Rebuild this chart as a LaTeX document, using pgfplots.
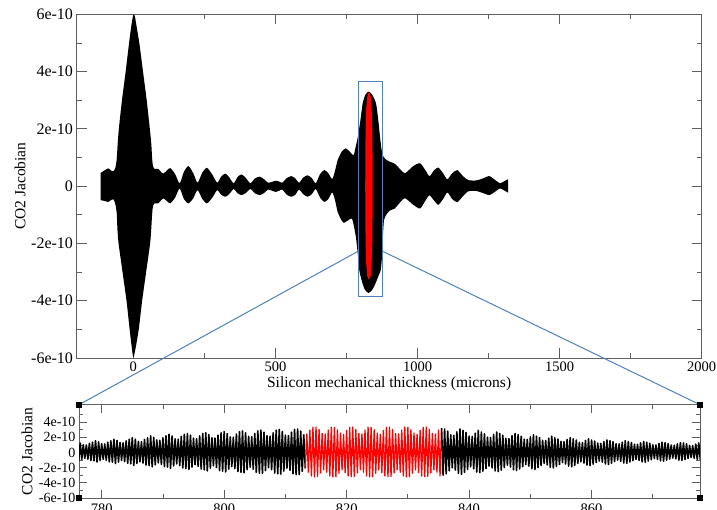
\documentclass[border=0pt]{standalone}
\usepackage{fontspec}
\setmainfont{Liberation Serif}
\usepackage{pgfplots}
\pgfplotsset{compat=1.18}
\usepgfplotslibrary{fillbetween}
\definecolor{zoomblue}{RGB}{79,129,189}
\definecolor{framegray}{RGB}{95,95,95}
\begin{document}
\begin{tikzpicture}[x=1pt,y=1pt]
\pgfplotsset{
  every axis/.append style={scale only axis, anchor=south west,
    axis line style={framegray, line width=0.9pt},
    tick style={framegray, line width=0.8pt},
    tick align=inside,
    /pgf/number format/assume math mode=true,
    scaled ticks=false},
}
% ---------------- main axis ----------------
\begin{axis}[at={(76.5pt,151pt)}, width=625.2pt, height=343.7pt,
  xmin=-200, xmax=2000, ymin=-6, ymax=6,
  xtick={0,500,1000,1500,2000}, xticklabels={0,500,1000,1500,2000},
  minor xtick={250,750,1250,1750},
  ytick={-6,-4,-2,0,2,4,6}, yticklabels={-6e-10,-4e-10,-2e-10,0,2e-10,4e-10,6e-10},
  minor ytick={-5,-3,-1,1,3,5},
  major tick length=10pt, minor tick length=5pt,
  xticklabel style={font=\fontsize{14.5}{14.5}\selectfont},
  yticklabel style={font=\fontsize{16}{16}\selectfont},
  xlabel={Silicon mechanical thickness (microns)},
  ylabel={CO2 Jacobian},
  label style={font=\fontsize{15.5}{15.5}\selectfont},
  xlabel style={at={(axis description cs:0.5,-0.0757)}, anchor=center},
  ylabel style={at={(axis description cs:-0.0904,0.5)}, anchor=center},
]
\addplot[draw=none, name path=u, smooth, tension=0.4] coordinates {
(-115,0.46) (-100,0.56) (-88,0.62) (-78,0.54) (-70,0.52) (-64,0.62) (-61,0.75) (-58,1.0) (-55,1.5) (-51,2.0) (-40,3.0) (-27,4.0) (-15,5.0) (-7,5.6) (-2,5.9) (2,6.0) (6,5.9) (11,5.6) (21,5.0) (34,4.0) (47,3.0) (58,2.0) (63,1.5) (66,1.0) (69,0.7) (75,0.6) (88,0.6) (97,0.5) (106,0.44) (118,0.55) (130,0.63) (147,0.42) (163,0.1) (178,0.5) (194,0.7) (211,0.45) (226,0.12) (243,0.48) (259,0.64) (278,0.4) (295,0.12) (309,0.33) (324,0.44) (338,0.3) (353,0.1) (367,0.32) (381,0.41) (396,0.28) (412,0.1) (428,0.27) (445,0.33) (460,0.24) (474,0.12) (488,0.15) (501,0.19) (513,0.16) (524,0.12) (540,0.28) (556,0.35) (570,0.27) (583,0.12) (598,0.3) (613,0.38) (628,0.28) (642,0.1) (657,0.42) (672,0.56) (686,0.45) (700,0.25) (710,0.55) (719,0.91) (733,1.2) (748,1.32) (762,1.2) (775,1.08) (783,1.4) (790,1.72) (799,2.3) (807,2.89) (817,3.2) (828,3.3) (840,3.2) (854,2.89) (862,2.3) (868,1.72) (874,1.25) (880,1.03) (890,0.92) (903,0.85) (920,0.78) (940,0.58) (956,0.45) (985,0.7) (1009,0.8) (1028,0.55) (1042,0.35) (1058,0.55) (1073,0.65) (1090,0.45) (1105,0.24) (1122,0.45) (1140,0.56) (1160,0.35) (1179,0.21) (1208,0.2) (1230,0.27) (1253,0.35) (1275,0.2) (1290,0.1) (1305,0.17) (1319,0.24)
};
\addplot[draw=none, name path=l, smooth, tension=0.4] coordinates {
(-115,-0.49) (-100,-0.52) (-88,-0.55) (-78,-0.48) (-70,-0.46) (-64,-0.6) (-61,-0.75) (-58,-1.0) (-56,-1.5) (-52,-2.0) (-38,-3.0) (-24,-4.0) (-13,-5.0) (-6,-5.6) (-2,-5.9) (0,-5.98) (3,-5.9) (9,-5.6) (19,-5.0) (31,-4.0) (45,-3.0) (59,-2.0) (63,-1.5) (66,-1.0) (69,-0.7) (75,-0.6) (88,-0.6) (97,-0.5) (106,-0.43) (118,-0.52) (130,-0.6) (147,-0.4) (163,-0.08) (178,-0.45) (194,-0.6) (211,-0.42) (226,-0.14) (243,-0.45) (259,-0.6) (278,-0.4) (295,-0.14) (309,-0.3) (324,-0.37) (338,-0.27) (353,-0.1) (367,-0.25) (381,-0.31) (396,-0.24) (412,-0.1) (428,-0.25) (445,-0.31) (460,-0.24) (474,-0.12) (488,-0.16) (501,-0.2) (513,-0.16) (524,-0.12) (540,-0.3) (556,-0.37) (570,-0.3) (583,-0.12) (598,-0.28) (613,-0.37) (628,-0.28) (642,-0.1) (657,-0.4) (672,-0.55) (686,-0.45) (700,-0.22) (710,-0.5) (719,-0.9) (733,-1.2) (741,-1.28) (755,-1.2) (770,-1.15) (783,-1.77) (790,-2.4) (795,-2.93) (805,-3.35) (815,-3.62) (828,-3.73) (842,-3.6) (852,-3.4) (862,-3.15) (870,-2.95) (874,-2.6) (878,-1.77) (882,-1.19) (890,-1.0) (903,-0.85) (920,-0.78) (940,-0.55) (956,-0.42) (985,-0.65) (1009,-0.78) (1028,-0.5) (1042,-0.32) (1058,-0.5) (1073,-0.65) (1090,-0.45) (1105,-0.22) (1122,-0.45) (1140,-0.56) (1160,-0.35) (1179,-0.18) (1208,-0.17) (1230,-0.24) (1253,-0.31) (1275,-0.18) (1290,-0.08) (1305,-0.15) (1319,-0.23)
};
\addplot[black] fill between[of=u and l];
\addplot[fill=red, draw=none] coordinates {
(816,0) (816.3,1.0) (817.3,2.0) (819.5,2.7) (822.5,3.1) (826,3.24) (829,3.27) (832,3.24) (835.5,3.1) (838.5,2.7) (840.7,2.0) (841.7,1.0) (842,0)
(841.7,-1.0) (840.7,-2.0) (838.5,-2.7) (835.5,-3.1) (832,-3.22) (829,-3.25) (826,-3.22) (822.5,-3.1) (819.5,-2.7) (817.3,-2.0) (816.3,-1.0)
} -- cycle;
\draw[zoomblue, line width=1pt] (axis cs:791.7,-3.84) rectangle (axis cs:876.2,3.65);
\coordinate (c1) at (axis cs:791.7,-2.27);
\coordinate (c2) at (axis cs:876.2,-2.27);
\end{axis}
% ---------------- zoom axis ----------------
\begin{axis}[at={(79pt,11pt)}, width=621pt, height=93.3pt,
  xmin=776.3, xmax=877.7, ymin=-6, ymax=6.3,
  xtick={780,800,820,840,860}, xticklabels={780,800,820,840,860},
  minor xtick={790,810,830,850,870},
  ytick={-6,-4,-2,0,2,4}, yticklabels={-6e-10,-4e-10,-2e-10,0,2e-10,4e-10},
  minor ytick={-5,-3,-1,1,3,5},
  major tick length=8pt, minor tick length=4pt,
  xticklabel style={font=\fontsize{14.5}{14.5}\selectfont, yshift=-2pt},
  yticklabel style={font=\fontsize{14}{14}\selectfont},
  ylabel={CO2 Jacobian},
  label style={font=\fontsize{15.5}{15.5}\selectfont},
  ylabel style={at={(axis description cs:-0.0837,0.5)}, anchor=center},
]
\addplot[black, line width=1.6pt, line join=round] coordinates {
(776,1.35)(776.25,-1.07)(776.5,1.23)(776.75,-0.91)(777,1.01)(777.25,-0.77)(777.5,0.99)(777.75,-0.88)(778,1.19)(778.25,-1.05)(778.5,1.35)(778.75,-1.09)
(779,1.55)(779.25,-1.26)(779.5,1.41)(779.75,-1.08)(780,1.16)(780.25,-0.91)(780.5,1.13)(780.75,-1.04)(781,1.36)(781.25,-1.24)(781.5,1.55)(781.75,-1.29)
(782,1.75)(782.25,-1.46)(782.5,1.59)(782.75,-1.25)(783,1.31)(783.25,-1.05)(783.5,1.28)(783.75,-1.2)(784,1.54)(784.25,-1.43)(784.5,1.75)(784.75,-1.49)
(785,1.95)(785.25,-1.7)(785.5,1.77)(785.75,-1.45)(786,1.46)(786.25,-1.23)(786.5,1.42)(786.75,-1.4)(787,1.72)(787.25,-1.66)(787.5,1.95)(787.75,-1.73)
(788,2.2)(788.25,-1.89)(788.5,2.0)(788.75,-1.62)(789,1.65)(789.25,-1.37)(789.5,1.61)(789.75,-1.56)(790,1.94)(790.25,-1.85)(790.5,2.2)(790.75,-1.93)
(791,2.4)(791.25,-2.09)(791.5,2.18)(791.75,-1.78)(792,1.8)(792.25,-1.51)(792.5,1.75)(792.75,-1.72)(793,2.11)(793.25,-2.04)(793.5,2.4)(793.75,-2.13)
(794,2.5)(794.25,-2.23)(794.5,2.28)(794.75,-1.91)(795,1.88)(795.25,-1.61)(795.5,1.83)(795.75,-1.84)(796,2.2)(796.25,-2.19)(796.5,2.5)(796.75,-2.28)
(797,2.6)(797.25,-2.43)(797.5,2.37)(797.75,-2.08)(798,1.95)(798.25,-1.75)(798.5,1.9)(798.75,-2.0)(799,2.29)(799.25,-2.38)(799.5,2.6)(799.75,-2.48)
(800,2.75)(800.25,-2.57)(800.5,2.5)(800.75,-2.2)(801,2.06)(801.25,-1.86)(801.5,2.01)(801.75,-2.12)(802,2.42)(802.25,-2.52)(802.5,2.75)(802.75,-2.62)
(803,2.85)(803.25,-2.67)(803.5,2.59)(803.75,-2.28)(804,2.14)(804.25,-1.93)(804.5,2.08)(804.75,-2.2)(805,2.51)(805.25,-2.61)(805.5,2.85)(805.75,-2.72)
(806,2.95)(806.25,-2.76)(806.5,2.68)(806.75,-2.37)(807,2.21)(807.25,-2.0)(807.5,2.15)(807.75,-2.28)(808,2.6)(808.25,-2.71)(808.5,2.95)(808.75,-2.82)
(809,3.05)(809.25,-2.86)(809.5,2.78)(809.75,-2.45)(810,2.29)(810.25,-2.07)(810.5,2.23)(810.75,-2.36)(811,2.68)(811.25,-2.8)(811.5,3.05)(811.75,-2.92)
(812,3.1)(812.25,-2.91)(812.5,2.82)(812.75,-2.49)(813,2.33)(813.25,-2.1)
};
\addplot[red, line width=1.3pt, line join=round] coordinates {
(813.25,-2.1)(813.5,2.45)(813.75,-2.6)(814,2.95)(814.25,-3.09)(814.5,3.35)(814.75,-3.22)
(815,3.35)(815.25,-3.15)(815.5,3.05)(815.75,-2.7)(816,2.51)(816.25,-2.28)(816.5,2.45)(816.75,-2.6)(817,2.95)(817.25,-3.09)(817.5,3.35)(817.75,-3.22)
(818,3.3)(818.25,-3.2)(818.5,3.0)(818.75,-2.75)(819,2.55)(819.25,-2.3)(819.5,2.4)(819.75,-2.65)(820,2.9)(820.25,-3.1)(820.5,3.32)(820.75,-3.2)
(821,3.35)(821.25,-3.15)(821.5,3.05)(821.75,-2.7)(822,2.51)(822.25,-2.28)(822.5,2.45)(822.75,-2.6)(823,2.95)(823.25,-3.09)(823.5,3.35)(823.75,-3.22)
(824,3.3)(824.25,-3.2)(824.5,3.0)(824.75,-2.75)(825,2.55)(825.25,-2.3)(825.5,2.4)(825.75,-2.65)(826,2.9)(826.25,-3.1)(826.5,3.32)(826.75,-3.2)
(827,3.35)(827.25,-3.15)(827.5,3.05)(827.75,-2.7)(828,2.51)(828.25,-2.28)(828.5,2.45)(828.75,-2.6)(829,2.95)(829.25,-3.09)(829.5,3.35)(829.75,-3.22)
(830,3.3)(830.25,-3.2)(830.5,3.0)(830.75,-2.75)(831,2.55)(831.25,-2.3)(831.5,2.4)(831.75,-2.65)(832,2.9)(832.25,-3.1)(832.5,3.32)(832.75,-3.2)
(833,3.35)(833.25,-3.15)(833.5,3.05)(833.75,-2.7)(834,2.51)(834.25,-2.28)(834.5,2.45)(834.75,-2.6)(835,2.95)(835.25,-3.09)(835.5,3.2)
};
\addplot[black, line width=1.6pt, line join=round] coordinates {
(835.5,3.2)(835.75,-3.0)
(836,3.1)(836.25,-2.81)(836.5,2.82)(836.75,-2.41)(837,2.33)(837.25,-2.03)(837.5,2.26)(837.75,-2.32)(838,2.73)(838.25,-2.76)(838.5,3.1)(838.75,-2.87)
(839,2.9)(839.25,-2.62)(839.5,2.64)(839.75,-2.24)(840,2.18)(840.25,-1.89)(840.5,2.12)(840.75,-2.16)(841,2.55)(841.25,-2.57)(841.5,2.9)(841.75,-2.67)
(842,2.7)(842.25,-2.47)(842.5,2.46)(842.75,-2.12)(843,2.03)(843.25,-1.79)(843.5,1.97)(843.75,-2.04)(844,2.38)(844.25,-2.42)(844.5,2.7)(844.75,-2.52)
(845,2.5)(845.25,-2.33)(845.5,2.28)(845.75,-1.99)(846,1.88)(846.25,-1.68)(846.5,1.83)(846.75,-1.92)(847,2.2)(847.25,-2.28)(847.5,2.5)(847.75,-2.38)
(848,2.35)(848.25,-2.18)(848.5,2.14)(848.75,-1.87)(849,1.76)(849.25,-1.58)(849.5,1.72)(849.75,-1.8)(850,2.07)(850.25,-2.14)(850.5,2.35)(850.75,-2.23)
(851,2.15)(851.25,-1.99)(851.5,1.96)(851.75,-1.7)(852,1.61)(852.25,-1.44)(852.5,1.57)(852.75,-1.64)(853,1.89)(853.25,-1.95)(853.5,2.15)(853.75,-2.03)
(854,1.95)(854.25,-1.84)(854.5,1.77)(854.75,-1.58)(855,1.46)(855.25,-1.33)(855.5,1.42)(855.75,-1.52)(856,1.72)(856.25,-1.81)(856.5,1.95)(856.75,-1.88)
(857,1.8)(857.25,-1.7)(857.5,1.64)(857.75,-1.45)(858,1.35)(858.25,-1.23)(858.5,1.31)(858.75,-1.4)(859,1.58)(859.25,-1.66)(859.5,1.8)(859.75,-1.73)
(860,1.65)(860.25,-1.55)(860.5,1.5)(860.75,-1.33)(861,1.24)(861.25,-1.12)(861.5,1.2)(861.75,-1.28)(862,1.45)(862.25,-1.52)(862.5,1.65)(862.75,-1.58)
(863,1.55)(863.25,-1.41)(863.5,1.41)(863.75,-1.2)(864,1.16)(864.25,-1.02)(864.5,1.13)(864.75,-1.16)(865,1.36)(865.25,-1.38)(865.5,1.55)(865.75,-1.44)
(866,1.45)(866.25,-1.26)(866.5,1.32)(866.75,-1.08)(867,1.09)(867.25,-0.91)(867.5,1.06)(867.75,-1.04)(868,1.28)(868.25,-1.24)(868.5,1.45)(868.75,-1.29)
(869,1.35)(869.25,-1.12)(869.5,1.23)(869.75,-0.95)(870,1.01)(870.25,-0.81)(870.5,0.99)(870.75,-0.92)(871,1.19)(871.25,-1.09)(871.5,1.35)(871.75,-1.14)
(872,1.3)(872.25,-1.02)(872.5,1.18)(872.75,-0.87)(873,0.98)(873.25,-0.74)(873.5,0.95)(873.75,-0.84)(874,1.14)(874.25,-1.0)(874.5,1.3)(874.75,-1.04)
(875,1.25)(875.25,-0.92)(875.5,1.14)(875.75,-0.79)(876,0.94)(876.25,-0.67)(876.5,0.91)(876.75,-0.76)(877,1.1)(877.25,-0.9)(877.5,1.25)(877.75,-0.94)(878,1.2)
};
\coordinate (d1) at (rel axis cs:0,1);
\coordinate (d2) at (rel axis cs:1,1);
\coordinate (d3) at (rel axis cs:0,0);
\coordinate (d4) at (rel axis cs:1,0);
\end{axis}
\draw[zoomblue, line width=1pt] (c1) -- (d1);
\draw[zoomblue, line width=1pt] (c2) -- (d2);
\foreach \p in {d1,d2,d3,d4} {
  \fill[black] ([shift={(-3pt,-3pt)}]\p) rectangle ([shift={(3pt,3pt)}]\p);
}
\pgfresetboundingbox
\path[use as bounding box] (0,0) rectangle (717pt,509pt);
\end{tikzpicture}
\end{document}
